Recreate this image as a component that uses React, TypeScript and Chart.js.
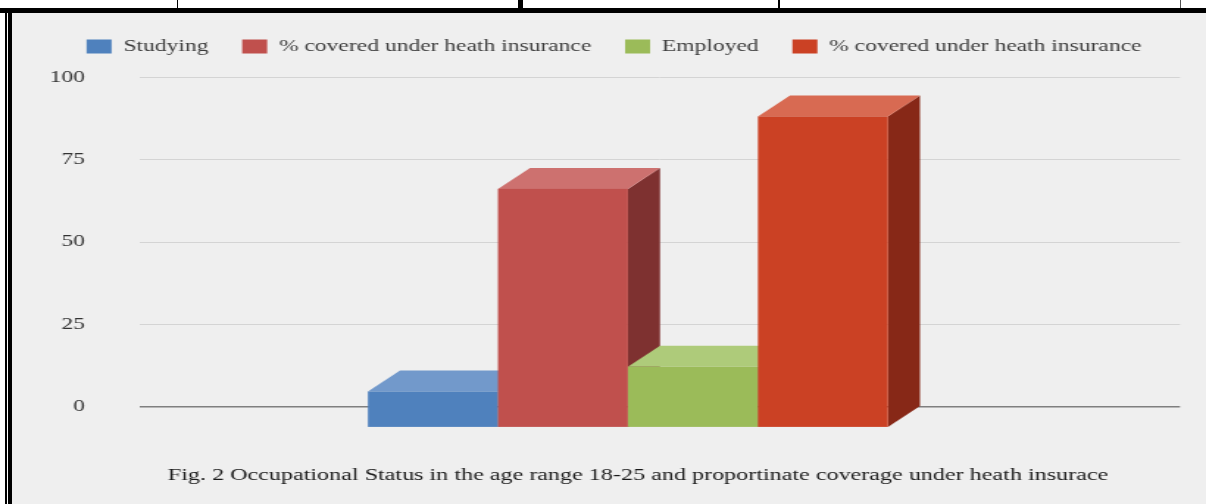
import { useEffect, useRef } from 'react';
import { Chart, registerables } from 'chart.js';

Chart.register(...registerables);

// ---- data ----
const ageRange = ['18-25'];
const seriesNames = [
  'Studying',
  '% covered under heath insurance',
  'Employed',
  '% covered under heath insurance',
];
const studying = [11];
const studyingCovered = [72.5];
const employed = [18.5];
const employedCovered = [94.5];
const yTicks = [0, 25, 50, 75, 100];
const caption =
  'Fig. 2 Occupational Status in the age range 18-25 and proportinate coverage under heath insurace';

// ---- styling ----
const CANVAS_W = 820;
const CANVAS_H = 504;
const STRETCH = 1206 / CANVAS_W;
const DEPTH_X = 21.8; // oblique depth of the 3D columns
const DEPTH_Y = 21;
const frontColors = ['#4f81bd', '#c0504d', '#9bbb59', '#cb4124'];
const topColors = ['#7299cb', '#cd716f', '#aecb7a', '#d86a52'];
const sideColors = ['#3a6294', '#7e3130', '#6f8c3c', '#872817'];
const SERIF = '"Liberation Serif", "Times New Roman", serif';

// Draws each column as an oblique box: right side, top, then front face.
const columns3d = {
  id: 'columns3d',
  beforeDatasetsDraw(chart: any) {
    const ctx = chart.ctx;
    ctx.save();
    chart.data.datasets.forEach((_ds: any, i: number) => {
      if (!chart.isDatasetVisible(i)) return;
      const meta = chart.getDatasetMeta(i);
      meta.data.forEach((el: any) => {
        const { x, y, base, width } = el.getProps(['x', 'y', 'base', 'width'], true);
        const l = x - width / 2;
        const r = x + width / 2;
        // side
        ctx.fillStyle = sideColors[i];
        ctx.beginPath();
        ctx.moveTo(r - DEPTH_X, y + DEPTH_Y);
        ctx.lineTo(r, y);
        ctx.lineTo(r, base);
        ctx.lineTo(r - DEPTH_X, base + DEPTH_Y);
        ctx.closePath();
        ctx.fill();
        // top
        ctx.fillStyle = topColors[i];
        ctx.beginPath();
        ctx.moveTo(l - DEPTH_X, y + DEPTH_Y);
        ctx.lineTo(l, y);
        ctx.lineTo(r, y);
        ctx.lineTo(r - DEPTH_X, y + DEPTH_Y);
        ctx.closePath();
        ctx.fill();
        // front
        ctx.fillStyle = frontColors[i];
        ctx.fillRect(l - DEPTH_X, y + DEPTH_Y, width, base - y);
      });
    });
    ctx.restore();
    return false;
  },
};

// Extra room between the legend row and the plot.
const legendGap = {
  id: 'legendGap',
  beforeLayout(chart: any) {
    const legend = chart.legend;
    if (legend && !legend.__gapPatched) {
      const fit = legend.fit;
      legend.fit = function () {
        fit.call(this);
        this.height += 12.8;
      };
      legend.__gapPatched = true;
    }
  },
};

// Figure caption under the plot.
const figureCaption = {
  id: 'figureCaption',
  afterDraw(chart: any) {
    const ctx = chart.ctx;
    ctx.save();
    ctx.font = `16.4px ${SERIF}`;
    ctx.fillStyle = '#1a1a1a';
    ctx.textAlign = 'center';
    ctx.textBaseline = 'middle';
    ctx.fillText(caption, 433.8, 476);
    ctx.restore();
  },
};

export default function App() {
  const canvasRef = useRef<HTMLCanvasElement | null>(null);

  useEffect(() => {
    const canvas = canvasRef.current;
    if (!canvas) return;
    const values = [studying, studyingCovered, employed, employedCovered];
    const chart = new Chart(canvas, {
      type: 'bar',
      data: {
        labels: ageRange,
        datasets: values.map((v, i) => ({
          label: seriesNames[i],
          data: v,
          backgroundColor: frontColors[i],
          borderWidth: 0,
          categoryPercentage: 0.5,
          barPercentage: 1,
        })),
      },
      options: {
        responsive: false,
        animation: false,
        devicePixelRatio: 1,
        layout: { padding: { left: 32.7, right: 17.7, top: 15.5, bottom: 97.3 } },
        plugins: {
          legend: {
            position: 'top',
            align: 'center',
            labels: {
              boxWidth: 17,
              boxHeight: 14,
              padding: 23,
              color: '#3c3c3c',
              font: { family: SERIF, size: 16 },
            },
          },
          tooltip: { enabled: false },
          title: { display: false },
        },
        scales: {
          x: { display: false },
          y: {
            min: 0,
            max: 100,
            afterBuildTicks: (s: any) => {
              s.ticks = yTicks.map((v) => ({ value: v }));
            },
            afterFit: (s: any) => {
              s.width = 62.5;
            },
            border: { display: false },
            grid: {
              drawTicks: false,
              color: (c: any) => (c.tick && c.tick.value === 0 ? '#7f7f7f' : '#d4d4d4'),
              lineWidth: (c: any) => (c.tick && c.tick.value === 0 ? 1.6 : 1),
            },
            ticks: {
              padding: 37.4,
              color: '#333333',
              font: { family: SERIF, size: 16 },
            },
          },
        },
      },
      plugins: [columns3d, legendGap, figureCaption],
    } as any);
    return () => chart.destroy();
  }, []);

  const black = '#000';
  return (
    <div
      style={{
        position: 'absolute',
        left: 0,
        top: 0,
        width: 1206,
        height: 504,
        background: '#fff',
        overflow: 'hidden',
      }}
    >
      <div style={{ position: 'absolute', left: 12, top: 13, right: 0, bottom: 0, background: '#efefef' }} />
      <canvas
        ref={canvasRef}
        width={CANVAS_W}
        height={CANVAS_H}
        style={{
          position: 'absolute',
          left: 0,
          top: 0,
          width: CANVAS_W,
          height: CANVAS_H,
          transform: `scaleX(${STRETCH})`,
          transformOrigin: '0 0',
        }}
      />
      {/* table rules */}
      <div style={{ position: 'absolute', left: 0, top: 8, width: 1206, height: 5, background: black }} />
      <div style={{ position: 'absolute', left: 8, top: 8, width: 4, bottom: 0, background: black }} />
      <div style={{ position: 'absolute', left: 5, top: 12, width: 1.5, bottom: 0, background: black }} />
      <div style={{ position: 'absolute', left: 177, top: 0, width: 1, height: 8, background: black }} />
      <div style={{ position: 'absolute', left: 518, top: 0, width: 5, height: 8, background: black }} />
      <div style={{ position: 'absolute', left: 778, top: 0, width: 1.5, height: 8, background: black }} />
      <div style={{ position: 'absolute', left: 1180, top: 0, width: 1, height: 8, background: '#555' }} />
    </div>
  );
}
